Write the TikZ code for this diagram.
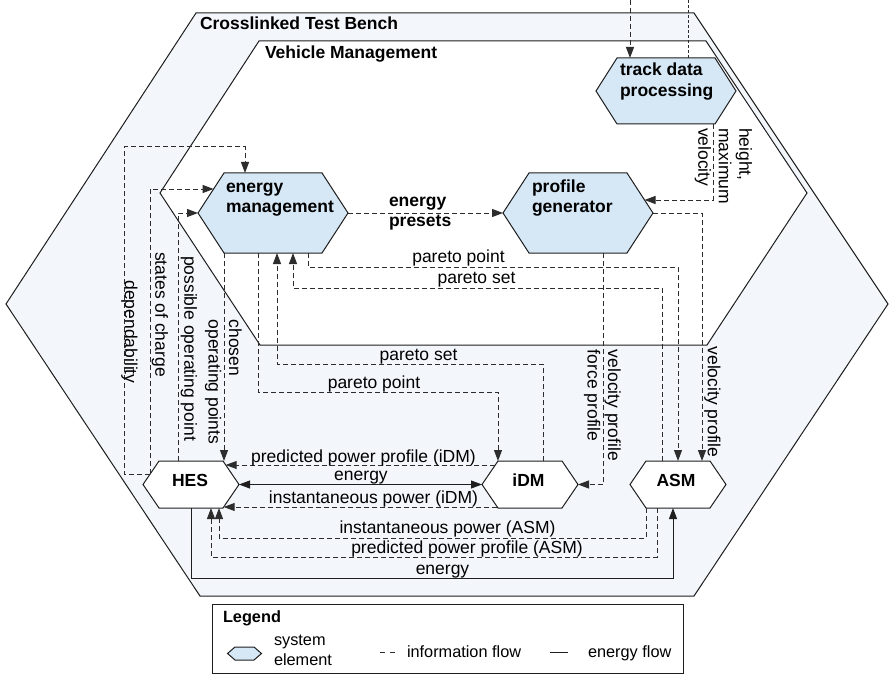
\documentclass[tikz,border=0pt]{standalone}
\usepackage{fontspec}
\setmainfont{Liberation Sans}
\usetikzlibrary{calc,arrows.meta}

\definecolor{benchfill}{HTML}{F3F7FC}
\definecolor{elemfill}{HTML}{D6E8F6}
\definecolor{edgeink}{HTML}{1E1E1E}
\definecolor{flowink}{HTML}{2D2D2D}

\newcommand\diagfont{\fontsize{17.5}{20.5}\selectfont}
\newcommand\keyfont{\fontsize{16.3}{19.5}\selectfont}

% hexagonal outline around a named box node: #1 node, #2 corner inset, #3 fill
\newcommand\hexaround[3]{%
  \filldraw[hexline, fill=#3]
    ($(#1.north west)+(#2,0)$) -- ($(#1.north east)+(-#2,0)$) -- (#1.east)
    -- ($(#1.south east)+(-#2,0)$) -- ($(#1.south west)+(#2,0)$) -- (#1.west) -- cycle;}

\begin{document}
\begin{tikzpicture}[x=1pt, y=-1pt,
  every node/.style={font=\diagfont, inner sep=0pt, outer sep=0pt},
  hexline/.style={draw=edgeink, line width=1pt, line join=miter},
  elem/.style={draw=none},
  elemtext/.style={anchor=north west, align=left, font=\diagfont\bfseries},
  elemname/.style={anchor=base, font=\diagfont\bfseries},
  title/.style={anchor=base west, font=\diagfont\bfseries},
  flowlabel/.style={anchor=base},
  sidelabel/.style={rotate=-90, align=left},
  info/.style={draw=flowink, line width=1pt, dash pattern=on 5pt off 3pt},
  energyflow/.style={draw=edgeink, line width=0.9pt},
  >={Triangle[length=11pt,width=8pt]}
]
\useasboundingbox (0,0) rectangle (889,674);

% test bench and vehicle management regions
\filldraw[hexline, fill=benchfill] (196,13) -- (694,13) -- (888,304) -- (694,596) -- (200,596) -- (6,304) -- cycle;
\filldraw[hexline, fill=white] (259,41) -- (706,41) -- (807,193) -- (707,345) -- (260,345) -- (160,193) -- cycle;
\node[title] (bench) at (200,29.2) {Crosslinked Test Bench};
\node[title] (vm) at (265,59) {Vehicle Management};

% system elements
\node[elem, minimum width=140pt, minimum height=66pt] (tdp) at (666,91) {};
\hexaround{tdp}{21}{elemfill}
\node[elemtext] (tdptext) at (620,61.65) {\strut track data\\processing};

\node[elem, minimum width=150pt, minimum height=80pt] (em) at (273,213) {};
\hexaround{em}{26}{elemfill}
\node[elemtext] (emtext) at (226,177.65) {\strut energy\\management};

\node[elem, minimum width=150pt, minimum height=80pt] (pg) at (578,213) {};
\hexaround{pg}{26}{elemfill}
\node[elemtext] (pgtext) at (532,177.65) {\strut profile\\generator};

\node[elem, minimum width=96pt, minimum height=47pt] (hes) at (191,484.5) {};
\hexaround{hes}{16}{white}
\node[elemname] (hestext) at (190,486.7) {HES};

\node[elem, minimum width=96pt, minimum height=47pt] (idm) at (530,484.5) {};
\hexaround{idm}{16}{white}
\node[elemname] (idmtext) at (528.5,486.7) {iDM};

\node[elem, minimum width=96pt, minimum height=47pt] (asm) at (678,484.5) {};
\hexaround{asm}{16}{white}
\node[elemname] (asmtext) at (676,486.7) {ASM};

% track data from and to the outside
\coordinate (feedin) at (630,0);
\coordinate (feedout) at (688,0);
\draw[info,->] (feedin) -- (feedin |- tdp.north);
\draw[info, dash pattern=on 3pt off 2pt] (feedout |- tdp.north) -- (feedout);

% vehicle management flows
\draw[info,->] ($(tdp.south east)+(-23,0)$) |- ($(pg.east)+(-8.5,-13)$);
\node[sidelabel] (hmv) at (723.5,166) {height,\\maximum\\velocity};

\draw[info,->] (em.east) -- (pg.west);
\node[elemtext] (presets) at (389,191.65) {\strut energy\\presets};

\draw[info,->] ($(em.south)+(35,0)$) -- ++(0,14) -| (asm.north);
\node[flowlabel] (pp1) at (458.5,262) {pareto point};
\draw[info,->] ($(asm.north)+(-16,0)$) |- ($(em.south)+(20,35)$) -- ($(em.south)+(20,0)$);
\node[flowlabel] (ps1) at (476.5,283) {pareto set};
\draw[info,->] ($(idm.north)+(13,0)$) |- ($(em.south)+(4,111)$) -- ($(em.south)+(4,0)$);
\node[flowlabel] (ps2) at (418.5,360) {pareto set};
\draw[info,->] ($(em.south)+(-15,0)$) -- ++(0,139) -| ($(idm.north west)+(16,0)$);
\node[flowlabel] (pp2) at (374,388) {pareto point};

\draw[info,->] ($(pg.south)+(25,0)$) |- (idm.east);
\node[sidelabel] (vfp) at (602.5,405.4) {velocity profile\\force profile};
\draw[info,->] (pg.east) -| ($(asm.north)+(24,0)$);
\node[sidelabel] (vp) at (712.5,402) {velocity profile};

% HES to energy management
\coordinate (hesul) at ($(hes.west)+(7,-10.5)$);
\draw[info,->] (hesul) -- ++(-26,0) |- ($(em.north)+(-28,-26)$) -- ($(em.north)+(-28,0)$);
\node[sidelabel] (dep) at (129.5,332) {dependability};
\draw[info,->] (hesul) |- ($(em.west)+(15.6,-24)$);
\node[sidelabel] (soc) at (160,314.5) {states of charge};
\draw[info,->] ($(hes.north)+(-13,0)$) |- (em.west);
\node[sidelabel] (pop) at (189,348.5) {possible operating point};
\coordinate (embl) at ($(em.south west)+(26,0)$);
\draw[info,->] (embl) -- (embl |- hes.north);
\node[sidelabel] (cop) at (223.5,382) {chosen\\operating points};

% HES and drive machines
\draw[info,->] ($(idm.west)+(13.3,-19.5)$) -- ($(hes.east)+(-13.3,-19.5)$);
\node[flowlabel] (ppi) at (363.5,462) {predicted power profile (iDM)};
\draw[energyflow,<->] (hes.east) -- (idm.west);
\node[flowlabel] (ei) at (361,480) {energy};
\draw[info,->] ($(idm.west)+(15.3,22.5)$) -- ($(hes.east)+(-15.3,22.5)$);
\node[flowlabel] (ipi) at (373.5,503) {instantaneous power (iDM)};

\draw[info,->] ($(asm.south west)+(16,0)$) -- ++(0,30) -| ($(hes.south)+(28,0)$);
\node[flowlabel] (ipa) at (447.5,533) {instantaneous power (ASM)};
\draw[info,->] ($(asm.south)+(-21,0)$) -- ++(0,49) -| ($(hes.south)+(20,0)$);
\node[flowlabel] (ppa) at (467,553) {predicted power profile (ASM)};
\draw[energyflow,->] (hes.south) -- ++(0,70) -| ($(asm.south)+(-5,0)$);
\node[flowlabel] (ea) at (442.5,574) {energy};

% legend
\node[draw=edgeink, line width=1pt, anchor=north west, minimum width=471pt, minimum height=69pt] (legend) at (212,604) {};
\node[anchor=base west, font=\keyfont\bfseries] (legendtitle) at (223,622) {Legend};
\node[elem, minimum width=34pt, minimum height=13pt] (keyhex) at (244.5,653.5) {};
\hexaround{keyhex}{7.5}{elemfill}
\node[anchor=north west, align=left, font=\keyfont] (keyelem) at (274,632) {\strut system\\element};
\coordinate (infoa) at (380,652);
\coordinate (infob) at (395,652);
\draw[info, dash pattern=on 5pt off 5pt] (infoa) -- (infob);
\node[anchor=base west, font=\keyfont] (keyinfo) at (407,657.5) {information flow};
\coordinate (enera) at (550,652);
\coordinate (enerb) at (568,652);
\draw[energyflow] (enera) -- (enerb);
\node[anchor=base west, font=\keyfont] (keyenergy) at (588,657.5) {energy flow};
\end{tikzpicture}
\end{document}
